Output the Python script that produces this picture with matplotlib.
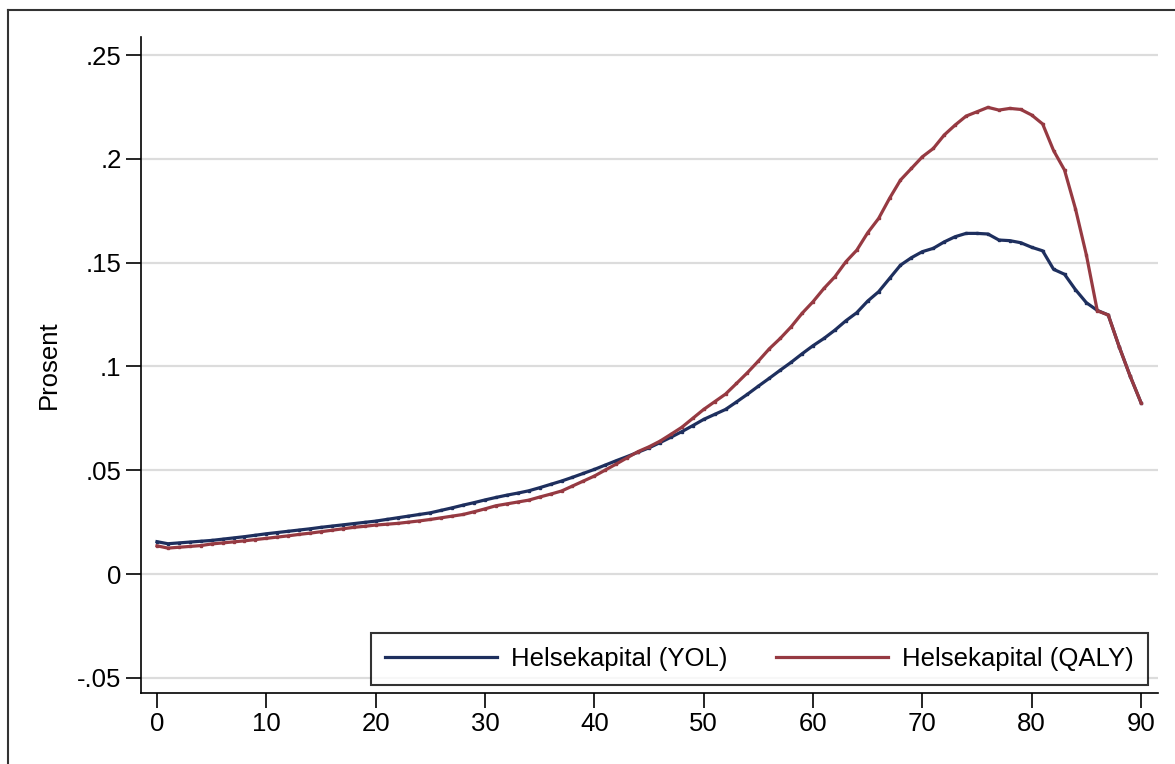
import numpy as np
import matplotlib
matplotlib.use("Agg")
import matplotlib.pyplot as plt
from matplotlib.lines import Line2D

plt.rcParams['font.family'] = ['Liberation Sans', 'DejaVu Sans']

# --- data: age 0..90 ---
ages = list(range(91))

yol = [0.0156, 0.0146, 0.0150, 0.0154, 0.0158, 0.0162, 0.0168, 0.0174, 0.0180, 0.0187,
       0.0194, 0.0200, 0.0206, 0.0212, 0.0218, 0.0225, 0.0231, 0.0237, 0.0243, 0.0249,
       0.0255, 0.0263, 0.0271, 0.0279, 0.0287, 0.0295, 0.0307, 0.0319, 0.0332, 0.0344,
       0.0357, 0.0369, 0.0380, 0.0390, 0.0401, 0.0416, 0.0432, 0.0448, 0.0466, 0.0485,
       0.0504, 0.0525, 0.0546, 0.0566, 0.0587, 0.0608, 0.0633, 0.0659, 0.0686, 0.0715,
       0.0745, 0.0769, 0.0793, 0.0829, 0.0866, 0.0905, 0.0943, 0.0982, 0.1020, 0.1061,
       0.1100, 0.1135, 0.1175, 0.1220, 0.1259, 0.1315, 0.1360, 0.1424, 0.1488, 0.1524,
       0.1553, 0.1569, 0.1600, 0.1625, 0.1641, 0.1641, 0.1638, 0.1609, 0.1606, 0.1596,
       0.1574, 0.1557, 0.1468, 0.1444, 0.1370, 0.1307, 0.1270, 0.1248, 0.1095, 0.0954,
       0.0825]

qaly = [0.0136, 0.0125, 0.0129, 0.0133, 0.0137, 0.0145, 0.0150, 0.0155, 0.0160, 0.0166,
        0.0172, 0.0178, 0.0184, 0.0191, 0.0197, 0.0204, 0.0211, 0.0218, 0.0225, 0.0230,
        0.0236, 0.0240, 0.0244, 0.0250, 0.0256, 0.0263, 0.0271, 0.0279, 0.0287, 0.0300,
        0.0314, 0.0329, 0.0338, 0.0347, 0.0356, 0.0371, 0.0385, 0.0400, 0.0424, 0.0448,
        0.0472, 0.0501, 0.0530, 0.0560, 0.0590, 0.0613, 0.0640, 0.0673, 0.0707, 0.0750,
        0.0793, 0.0830, 0.0867, 0.0918, 0.0970, 0.1026, 0.1085, 0.1135, 0.1191, 0.1256,
        0.1312, 0.1376, 0.1432, 0.1504, 0.1560, 0.1644, 0.1713, 0.1810, 0.1898, 0.1954,
        0.2010, 0.2050, 0.2115, 0.2163, 0.2206, 0.2227, 0.2248, 0.2235, 0.2243, 0.2238,
        0.2211, 0.2168, 0.2040, 0.1946, 0.1760, 0.1537, 0.1268, 0.1248, 0.1095, 0.0954,
        0.0825]

yticks = [-0.05, 0, 0.05, 0.1, 0.15, 0.2, 0.25]
ytick_labels = ['-.05', '0', '.05', '.1', '.15', '.2', '.25']
xticks = list(range(0, 91, 10))

navy = '#1e2f5e'
maroon = '#963a42'
fs = 18.5

fig = plt.figure(figsize=(11.75, 7.64), dpi=100)
ax = fig.add_axes([141 / 1175, 1 - 693 / 764, (1158 - 141) / 1175, (693 - 37) / 764])

ax.plot(ages, yol, color=navy, lw=2.3, marker='s', ms=2.0, label='Helsekapital (YOL)', zorder=3)
ax.plot(ages, qaly, color=maroon, lw=2.3, marker='s', ms=2.0, label='Helsekapital (QALY)', zorder=3)

ax.set_xlim(-1.46, 91.55)
ax.set_ylim(-0.0573, 0.2587)
ax.set_yticks(yticks)
ax.set_yticklabels(ytick_labels)
ax.set_xticks(xticks)
ax.grid(axis='y', color='#dcdcdc', lw=1.6)
ax.set_axisbelow(True)
for s in ['top', 'right']:
    ax.spines[s].set_visible(False)
for s in ['left', 'bottom']:
    ax.spines[s].set_linewidth(1.2)
ax.tick_params(axis='both', direction='out', length=11, width=1.2, labelsize=fs, pad=3)
ax.set_ylabel('Prosent', fontsize=fs, labelpad=12)

leg = fig.legend(loc='lower right', bbox_to_anchor=(1148 / 1175, 1 - 685 / 764), ncol=2,
                 fontsize=fs, frameon=True, fancybox=False, handlelength=4.35,
                 columnspacing=1.9, handletextpad=0.55, borderpad=0.55, borderaxespad=0)
leg.get_frame().set_edgecolor('black')
leg.get_frame().set_linewidth(1.5)
for h in leg.legend_handles:
    h.set_marker('')

# outer frame (left and top only, rest cropped)
fig.add_artist(Line2D([8 / 1175, 8 / 1175], [0, 1 - 10 / 764], color='#333333', lw=1.5,
                      transform=fig.transFigure))
fig.add_artist(Line2D([8 / 1175, 1], [1 - 10 / 764, 1 - 10 / 764], color='#333333', lw=1.5,
                      transform=fig.transFigure))

fig.savefig('out.png', dpi=100)
